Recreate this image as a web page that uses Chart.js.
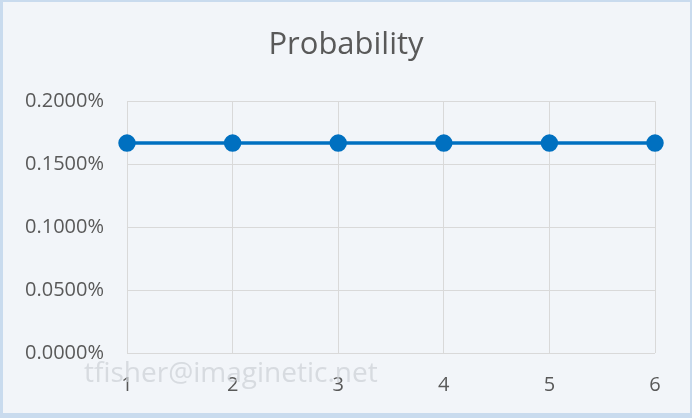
<!DOCTYPE html>
<html>
<head>
<meta charset="utf-8">
<script src="https://cdn.jsdelivr.net/npm/chart.js@4/dist/chart.umd.min.js"></script>
<style>
  html, body { margin: 0; padding: 0; background: #c9dbee; }
  #wrap { width: 692px; height: 418px; position: relative; }
</style>
</head>
<body>
<div id="wrap"><canvas id="probChart" width="692" height="418"></canvas></div>
<script>
// chart data
const outcomes = ['1', '2', '3', '4', '5', '6'];
const probability = [0.1667, 0.1667, 0.1667, 0.1667, 0.1667, 0.1667]; // percent
const yTicks = [0, 0.05, 0.1, 0.15, 0.2];

const textColor = '#595959';
const gridColor = '#d9d9d9';
const fontFamily = '"Open Sans", "Noto Sans", sans-serif';

// background panel + watermark
const backdrop = {
    id: 'backdrop',
    beforeDraw(chart) {
        const ctx = chart.ctx;
        ctx.save();
        ctx.fillStyle = '#c9dbee';
        ctx.fillRect(0, 0, chart.width, chart.height);
        ctx.fillStyle = '#f2f5f9';
        ctx.fillRect(3, 2, chart.width - 5, chart.height - 7);
        ctx.restore();
    },
    afterDatasetsDraw(chart) {
        const ctx = chart.ctx;
        ctx.save();
        ctx.font = '28px ' + fontFamily;
        ctx.fillStyle = 'rgba(205, 209, 215, 0.75)';
        ctx.textBaseline = 'middle';
        ctx.fillText('tfisher@imaginetic.net', 84, 374);
        ctx.restore();
    }
};

new Chart(document.getElementById('probChart'), {
    type: 'line',
    data: {
        labels: outcomes,
        datasets: [{
            label: 'Probability',
            data: probability,
            borderColor: '#0070c0',
            backgroundColor: '#0070c0',
            borderWidth: 3.5,
            pointRadius: 7,
            pointHoverRadius: 7,
            tension: 0
        }]
    },
    options: {
        responsive: false,
        animation: false,
        layout: { padding: 0 },
        plugins: {
            legend: { display: false },
            tooltip: { enabled: false },
            title: {
                display: true,
                text: 'Probability',
                color: textColor,
                font: { family: fontFamily, size: 31, weight: 'normal' },
                padding: { top: 27, bottom: 37 }
            }
        },
        scales: {
            x: {
                offset: false,
                border: { display: false },
                grid: { color: gridColor, lineWidth: 1, drawTicks: false },
                ticks: {
                    color: textColor,
                    font: { family: fontFamily, size: 20 },
                    padding: 20,
                    maxRotation: 0
                },
                afterFit(scale) { scale.height = 65; }
            },
            y: {
                min: 0,
                max: 0.2,
                border: { display: false },
                grid: { color: gridColor, lineWidth: 1, drawTicks: false },
                afterBuildTicks(scale) {
                    scale.ticks = yTicks.map(v => ({ value: v }));
                },
                ticks: {
                    color: textColor,
                    font: { family: fontFamily, size: 20 },
                    padding: 23,
                    callback: v => v.toFixed(4) + '%'
                },
                afterFit(scale) { scale.width = 127; }
            },
            // empty right-hand spacer so the title stays centred on the canvas
            spacer: {
                type: 'linear',
                position: 'right',
                min: 0,
                max: 0.2,
                border: { display: false },
                grid: { display: false },
                ticks: { display: false },
                afterFit(scale) { scale.width = 37; }
            }
        }
    },
    plugins: [backdrop]
});
</script>
</body>
</html>
